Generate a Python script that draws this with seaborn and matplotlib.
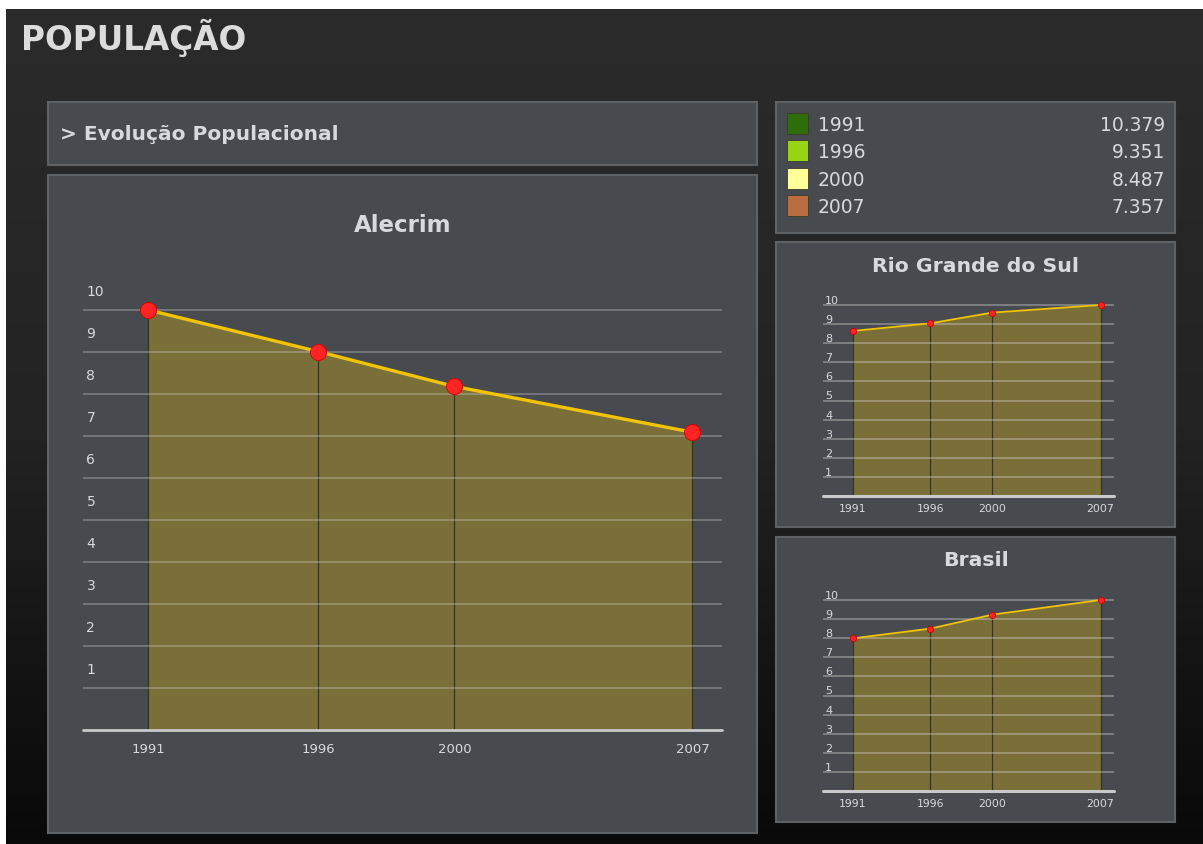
import numpy as np
import matplotlib
matplotlib.use("Agg")
import matplotlib.pyplot as plt
import seaborn as sns
from matplotlib.patches import Rectangle
from matplotlib.colors import LinearSegmentedColormap

# ---------------- data ----------------
years = [1991, 1996, 2000, 2007]
year_labels = ["1991", "1996", "2000", "2007"]
legend_values = ["10.379", "9.351", "8.487", "7.357"]
legend_colors = ["#2d6e0b", "#97d414", "#ffff99", "#b96d40"]
alecrim = [10.0, 9.01, 8.18, 7.09]
rio_grande_do_sul = [8.64, 9.04, 9.60, 10.0]
brasil = [7.99, 8.50, 9.23, 10.0]
y_levels = [1, 2, 3, 4, 5, 6, 7, 8, 9, 10]
y_labels = ["1", "2", "3", "4", "5", "6", "7", "8", "9", "10"]

# ---------------- style ----------------
sns.set_style("dark")
plt.rcParams["font.family"] = ["DejaVu Sans"]

W, H = 1203, 845
TXT = "#d7dadd"
PANEL = "#474b4f"
PANEL_EDGE = "#5f6265"
FILL = "#7b6f39"
LINE = "#f2c300"
MARK = "#ff2323"

fig = plt.figure(figsize=(W / 100, H / 100), dpi=100, facecolor="white")

canvas = fig.add_axes([0, 0, 1, 1])
canvas.set_zorder(0)
grad = np.linspace(0, 1, 256).reshape(-1, 1)
cmap = LinearSegmentedColormap.from_list("bg", ["#2b2b2b", "#232323", "#090909"])
canvas.imshow(grad, extent=(6, W, H, 10), aspect="auto", cmap=cmap,
              interpolation="bilinear")
canvas.set_xlim(0, W)
canvas.set_ylim(H, 0)
canvas.axis("off")


def panel(x0, y0, x1, y1):
    canvas.add_patch(Rectangle((x0, y0), x1 - x0, y1 - y0, facecolor=PANEL,
                               edgecolor=PANEL_EDGE, lw=1.5, zorder=2))


panel(48, 103, 757, 166)
panel(48, 176, 757, 834)
panel(776, 103, 1175, 234)
panel(776, 243, 1175, 528)
panel(776, 538, 1175, 823)

canvas.text(21, 38, "POPULAÇÃO", fontsize=23.5, fontweight="heavy", color="#dcdcdc",
            ha="left", va="center", zorder=3)
canvas.text(60, 135, "> Evolução Populacional", fontsize=14.5, fontweight="bold",
            color=TXT, ha="left", va="center", zorder=3)
canvas.text(403, 225, "Alecrim", fontsize=16.5, fontweight="bold", color=TXT,
            ha="center", va="center", zorder=3)
canvas.text(976, 267, "Rio Grande do Sul", fontsize=14.7, fontweight="bold",
            color=TXT, ha="center", va="center", zorder=3)
canvas.text(976, 561, "Brasil", fontsize=14.7, fontweight="bold", color=TXT,
            ha="center", va="center", zorder=3)

# legend box
for i, (lab, val, col) in enumerate(zip(year_labels, legend_values, legend_colors)):
    yc = 124.5 + i * 27.4
    canvas.add_patch(Rectangle((787, yc - 10.5), 21, 21, facecolor=col,
                               edgecolor="#3a3a2a", lw=0.6, zorder=3))
    canvas.text(818, yc + 1, lab, fontsize=13.5, color=TXT, ha="left",
                va="center", zorder=3)
    canvas.text(1165, yc + 1, val, fontsize=13.5, color=TXT, ha="right",
                va="center", zorder=3)


def chart_axes(left, right, base, unit, top_val):
    top = base - unit * top_val
    ax = fig.add_axes([left / W, 1 - base / H, (right - left) / W, (base - top) / H])
    ax.set_zorder(5)
    ax.set_facecolor("none")
    return ax


def draw_chart(ax, vals, top_val, lw, s, small):
    ax.fill_between(years, 0, vals, color=FILL, lw=0, zorder=1)
    ax.vlines(years, 0, vals, color="#37321c", lw=0.9, zorder=2)
    for lvl in y_levels:
        ax.axhline(lvl, color="#d0d0d0", alpha=0.42, lw=1.1 if not small else 1.3,
                   zorder=3)
    ax.axhline(0, color="#c9c9c9", lw=2 if not small else 2.2, zorder=3,
               clip_on=False)
    sns.lineplot(x=years, y=vals, ax=ax, color=LINE, lw=lw, zorder=4)
    sns.scatterplot(x=years, y=vals, ax=ax, s=s, color=MARK, edgecolor="#d00000",
                    linewidth=0.6, zorder=5, clip_on=False)
    ax.set_xlim(1989.08, 2007.87)
    ax.set_ylim(0, top_val)
    ax.set_xlabel("")
    ax.set_ylabel("")
    ax.grid(False)
    for sp in ax.spines.values():
        sp.set_visible(False)
    ax.set_xticks(years)
    ax.set_xticklabels(year_labels)
    if small:
        ax.set_yticks(y_levels)
        ax.set_yticklabels(y_labels)
        for t in ax.get_yticklabels():
            t.set_ha("left")
            t.set_va("bottom")
        ax.tick_params(axis="y", length=0, pad=-1.5, labelsize=8, labelcolor=TXT)
        ax.tick_params(axis="x", length=0, pad=4.7, labelsize=7.8, labelcolor=TXT)
    else:
        ax.set_yticks([v + 0.45 for v in y_levels])
        ax.set_yticklabels(y_labels)
        for t in ax.get_yticklabels():
            t.set_ha("left")
            t.set_va("center")
        ax.tick_params(axis="y", length=0, pad=-2.5, labelsize=10, labelcolor=TXT)
        ax.tick_params(axis="x", length=0, pad=8.6, labelsize=9.5, labelcolor=TXT)


ax_main = chart_axes(83, 722, 731, 42.0, 11.0)
draw_chart(ax_main, alecrim, 11.0, lw=2.4, s=135, small=False)

ax_rgs = chart_axes(823, 1114, 497, 19.1, 10.6)
draw_chart(ax_rgs, rio_grande_do_sul, 10.6, lw=1.3, s=20, small=True)

ax_br = chart_axes(823, 1114, 792, 19.1, 10.6)
draw_chart(ax_br, brasil, 10.6, lw=1.3, s=20, small=True)

fig.savefig("out.png", dpi=100, facecolor=fig.get_facecolor())
